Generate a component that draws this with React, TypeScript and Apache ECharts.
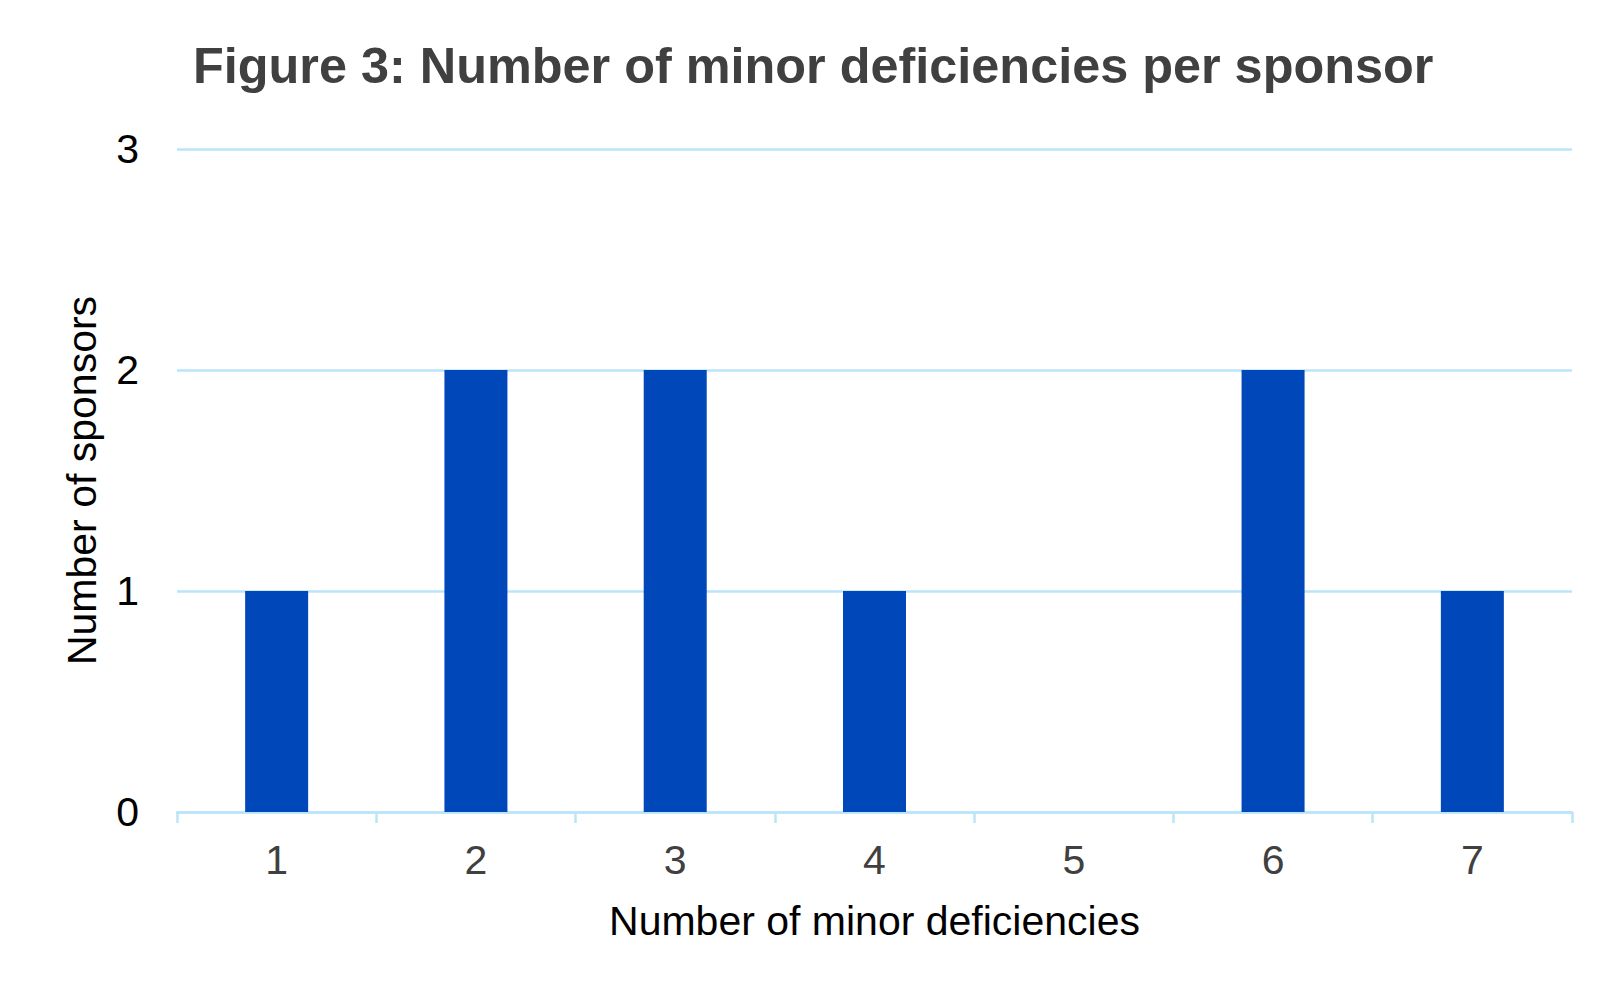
import React, { useEffect, useRef } from "react";
import * as echarts from "echarts";

const categories = ["1", "2", "3", "4", "5", "6", "7"];
const sponsorCounts = [1, 2, 2, 1, 0, 2, 1];
const yTicks = [0, 1, 2, 3];

const FONT = "'Liberation Sans', Arial, Helvetica, sans-serif";
const GRID_COLOR = "#BBE4FA";

export default function App() {
  const ref = useRef<HTMLDivElement>(null);
  useEffect(() => {
    if (!ref.current) return;
    const chart = echarts.init(ref.current, null, { renderer: "svg" });
    chart.setOption({
      animation: false,
      backgroundColor: "#ffffff",
      title: {
        text: "Figure 3: Number of minor deficiencies per sponsor",
        left: 193,
        top: 40,
        padding: 0,
        textStyle: {
          fontFamily: FONT,
          fontSize: 50.4,
          fontWeight: "bold",
          color: "#404040",
          lineHeight: 50,
        },
      },
      grid: { left: 177, right: 51, top: 149, bottom: 189, containLabel: false },
      xAxis: {
        type: "category",
        data: categories,
        name: "Number of minor deficiencies",
        nameLocation: "middle",
        nameGap: 88,
        nameTextStyle: { fontFamily: FONT, fontSize: 41, color: "#000000", lineHeight: 41 },
        axisLine: { show: true, lineStyle: { color: GRID_COLOR, width: 2.5 } },
        axisTick: { show: true, alignWithLabel: false, length: 11, lineStyle: { color: GRID_COLOR, width: 2.5 } },
        axisLabel: { fontFamily: FONT, fontSize: 41, color: "#404040", margin: 27, lineHeight: 41 },
        splitLine: { show: false },
      },
      yAxis: {
        type: "value",
        min: yTicks[0],
        max: yTicks[yTicks.length - 1],
        interval: 1,
        name: "Number of sponsors",
        nameLocation: "middle",
        nameGap: 75,
        nameRotate: 90,
        nameTextStyle: { fontFamily: FONT, fontSize: 41, color: "#000000", lineHeight: 41 },
        axisLine: { show: false },
        axisTick: { show: false },
        axisLabel: { fontFamily: FONT, fontSize: 41, color: "#000000", margin: 38 },
        splitLine: { show: true, lineStyle: { color: GRID_COLOR, width: 2.5 } },
      },
      series: [
        {
          type: "bar",
          data: sponsorCounts,
          barWidth: 63,
          itemStyle: { color: "#0047BA" },
        },
      ],
    });
    return () => chart.dispose();
  }, []);
  return (
    <div
      ref={ref}
      style={{ position: "absolute", left: 0, top: 0, width: 1623, height: 1001 }}
    />
  );
}
